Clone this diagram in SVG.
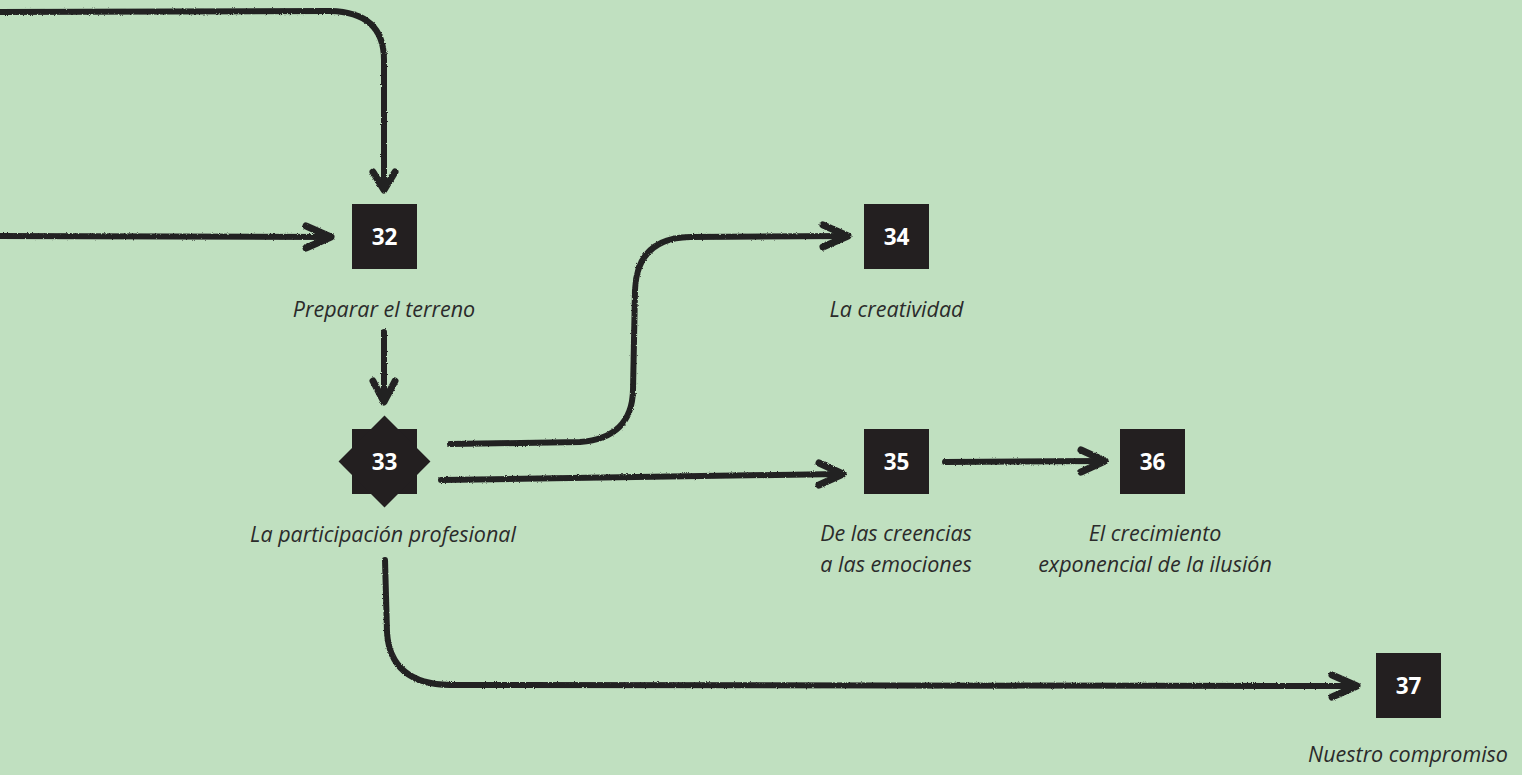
<svg xmlns="http://www.w3.org/2000/svg" width="1522" height="775" viewBox="0 0 1522 775">
<defs>
<filter id="pencil" x="-5%" y="-5%" width="110%" height="110%">
<feTurbulence type="fractalNoise" baseFrequency="0.9" numOctaves="2" seed="3" result="n"/>
<feDisplacementMap in="SourceGraphic" in2="n" scale="2.5" xChannelSelector="R" yChannelSelector="G"/>
</filter>
<style>
.bg{fill:#c0e0c0}
.box{fill:#231f20}
.num{font-family:"Open Sans","Liberation Sans",sans-serif;font-weight:700;font-size:22.5px;fill:#ffffff;text-anchor:middle}
.lbl{font-family:"Open Sans","Liberation Sans",sans-serif;font-style:italic;font-size:21.5px;fill:#2b2b2b;text-anchor:middle}
.ln{fill:none;stroke:#232323;stroke-width:6;stroke-linecap:round;stroke-linejoin:round}
.hd{fill:none;stroke:#232323;stroke-width:7;stroke-linecap:round;stroke-linejoin:round}
</style>
</defs>
<rect class="bg" x="0" y="0" width="1522" height="775"/>
<g id="connectors" filter="url(#pencil)">
<path class="ln" d="M-5 12 L330 11 Q384 12 384 60 L384 186"/>
<path class="hd" d="M373 172 L384 190 L395 172"/>
<path class="ln" d="M-5 236 L328 237"/>
<path class="hd" d="M306 226 L331 237 L306 248"/>
<path class="ln" d="M384 332 L384 398"/>
<path class="hd" d="M373 381 L384 402 L395 381"/>
<path class="ln" d="M450 444 L580 442 Q632 438 633 390 L635 290 Q637 238 690 237 L845 236"/>
<path class="hd" d="M823 225 L848 236 L823 247"/>
<path class="ln" d="M441 480 L840 474"/>
<path class="hd" d="M819 463 L843 474 L819 485"/>
<path class="ln" d="M945 462 L1102 461"/>
<path class="hd" d="M1081 450 L1105 461 L1081 472"/>
<path class="ln" d="M385 560 L387 632 Q390 684 450 685 L1354 686"/>
<path class="hd" d="M1332 675 L1357 686 L1332 697"/>
</g>
<g id="n32">
<rect class="box" x="352" y="204" width="65" height="65"/>
<text class="num" x="384.5" y="244.5">32</text>
<text class="lbl" x="384" y="317">Preparar el terreno</text>
</g>
<g id="n33">
<rect class="box" x="352" y="429" width="65" height="65"/>
<rect class="box" x="352" y="429" width="65" height="65" transform="rotate(45 384.5 461.5)"/>
<text class="num" x="384.5" y="469.5">33</text>
<text class="lbl" x="383" y="542">La participación profesional</text>
</g>
<g id="n34">
<rect class="box" x="864" y="204" width="65" height="65"/>
<text class="num" x="896.5" y="244.5">34</text>
<text class="lbl" x="896.5" y="317">La creatividad</text>
</g>
<g id="n35">
<rect class="box" x="864" y="429" width="65" height="65"/>
<text class="num" x="896.5" y="469.5">35</text>
<text class="lbl" x="896" y="541"><tspan x="896" y="541">De las creencias</tspan><tspan x="896" y="572">a las emociones</tspan></text>
</g>
<g id="n36">
<rect class="box" x="1120" y="429" width="65" height="65"/>
<text class="num" x="1152.5" y="469.5">36</text>
<text class="lbl" x="1155" y="541"><tspan x="1155" y="541">El crecimiento</tspan><tspan x="1155" y="572">exponencial de la ilusión</tspan></text>
</g>
<g id="n37">
<rect class="box" x="1376" y="653" width="65" height="65"/>
<text class="num" x="1408.5" y="693.5">37</text>
<text class="lbl" x="1408" y="762">Nuestro compromiso</text>
</g>
</svg>
